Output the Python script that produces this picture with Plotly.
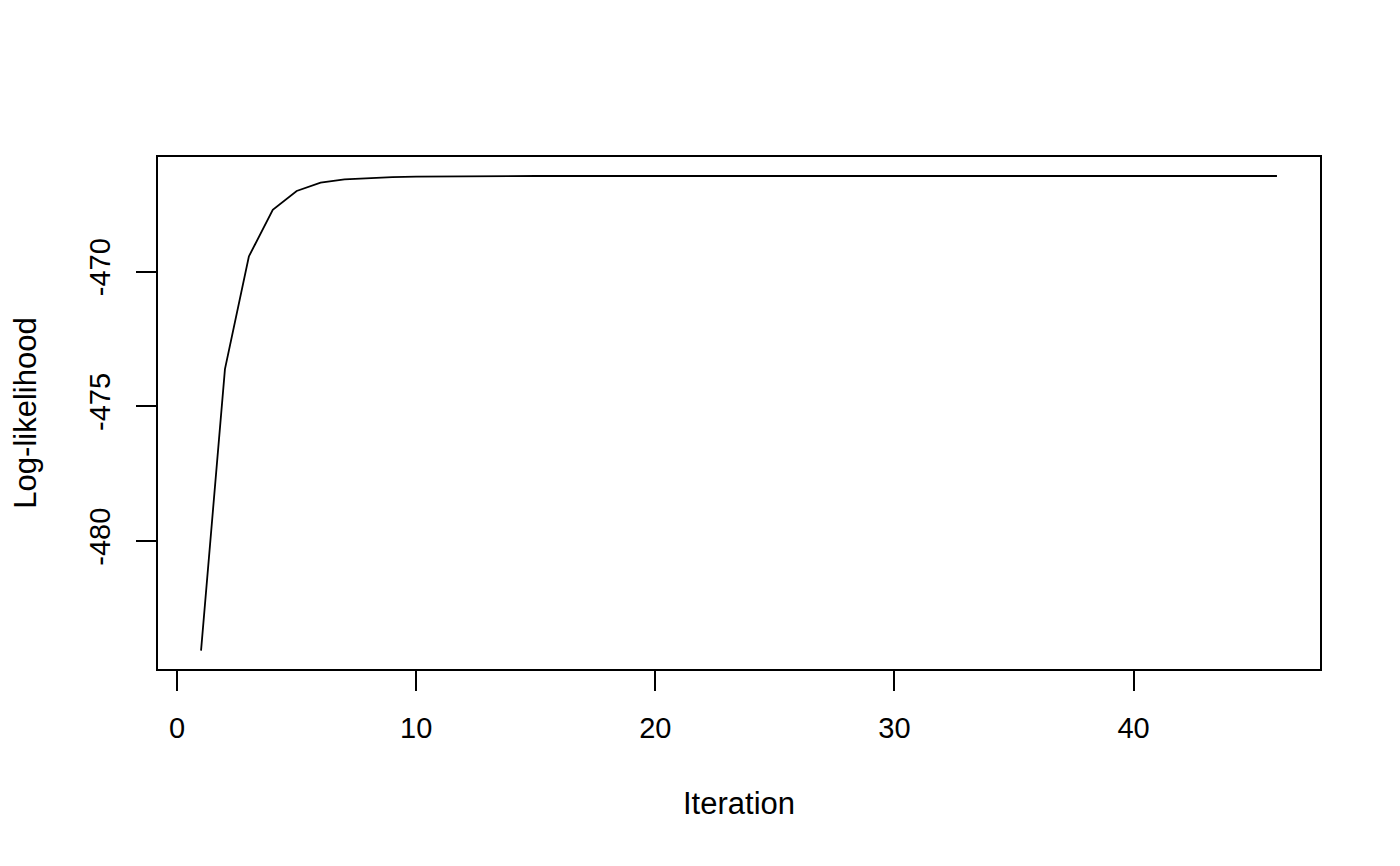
import plotly.graph_objects as go

iterations = list(range(1, 47))
loglik = [-484.07, -473.62, -469.44, -467.71, -467.01, -466.70, -466.58, -466.53,
          -466.50, -466.48, -466.47, -466.46, -466.46, -466.46, -466.455, -466.455,
          -466.455, -466.455, -466.455, -466.455, -466.455, -466.455, -466.455,
          -466.455, -466.455, -466.455, -466.455, -466.455, -466.455, -466.455,
          -466.455, -466.455, -466.455, -466.455, -466.455, -466.455, -466.455,
          -466.455, -466.455, -466.455, -466.455, -466.455, -466.455, -466.455,
          -466.455, -466.455]
x_ticks = [0, 10, 20, 30, 40]
y_ticks = [-480, -475, -470]

font_family = "Liberation Sans, Arial, Helvetica, sans-serif"
tick_fs = 29
title_fs = 31

fig = go.Figure()
fig.add_trace(go.Scatter(x=iterations, y=loglik, mode="lines",
                         line=dict(color="black", width=1.8), showlegend=False,
                         hoverinfo="x+y"))

fig.update_layout(
    width=1384, height=850,
    margin=dict(l=150, r=72, t=149, b=189),
    paper_bgcolor="white", plot_bgcolor="white",
    font=dict(family=font_family, size=tick_fs, color="black"),
    xaxis=dict(range=[-0.8, 47.8], tickvals=x_ticks, ticktext=[str(v) for v in x_ticks],
               showgrid=False, zeroline=False, showline=True, mirror=True,
               linecolor="black", linewidth=1.8, ticks="outside", ticklen=20,
               tickwidth=1.8, tickcolor="black", automargin=False,
               tickfont=dict(size=tick_fs),
               title=dict(text="Iteration", standoff=50, font=dict(size=title_fs)),
               ticklabelstandoff=12),
    yaxis=dict(range=[-484.75, -465.75], tickvals=y_ticks, ticktext=[str(v) for v in y_ticks],
               showgrid=False, zeroline=False, showline=True, mirror=True,
               linecolor="black", linewidth=1.8, ticks="outside", ticklen=20,
               tickwidth=1.8, tickcolor="black", tickangle=-90, automargin=False,
               tickfont=dict(size=tick_fs),
               title=dict(text="Log-likelihood", standoff=38, font=dict(size=title_fs)),
               ticklabelstandoff=15),
)

fig.write_html("out.html")
